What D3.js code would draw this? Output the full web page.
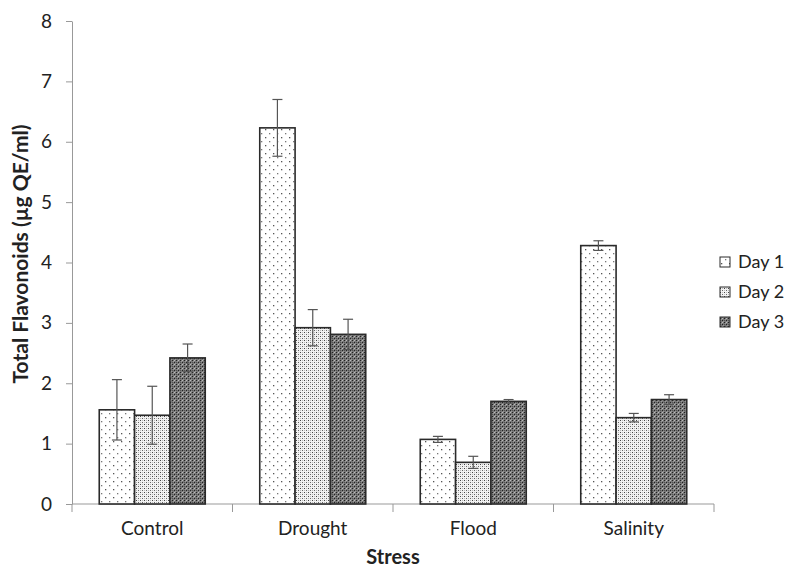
<!DOCTYPE html>
<html>
<head>
<meta charset="utf-8">
<script src="https://cdn.jsdelivr.net/npm/d3@7"></script>
<style>
  html, body { margin: 0; padding: 0; background: #fff; }
  svg { display: block; font-family: Lato, "Open Sans", sans-serif; }
</style>
</head>
<body>
<svg id="chart" width="787" height="568"></svg>
<script>
// Total flavonoid content per stress treatment, three sampling days
const categories = ["Control", "Drought", "Flood", "Salinity"];
const seriesNames = ["Day 1", "Day 2", "Day 3"];
const day1 = [1.56, 6.23, 1.07, 4.28];
const day2 = [1.47, 2.92, 0.69, 1.43];
const day3 = [2.42, 2.81, 1.70, 1.73];
const err1 = [0.50, 0.47, 0.05, 0.08];
const err2 = [0.48, 0.30, 0.10, 0.07];
const err3 = [0.23, 0.25, 0.03, 0.08];
const yTicks = [0, 1, 2, 3, 4, 5, 6, 7, 8];

const values = [day1, day2, day3];
const errors = [err1, err2, err3];

const svg = d3.select("#chart");
const plotLeft = 72, plotRight = 714;

const x = d3.scaleBand().domain(categories).range([plotLeft, plotRight]);
const groupWidth = 106;
const xs = d3.scaleBand().domain(seriesNames).range([0, groupWidth]);
const groupOffset = (x.bandwidth() - groupWidth) / 2;
const y = d3.scaleLinear().domain([0, 8]).range([504, 21]);

// Fill patterns for the three days
const defs = svg.append("defs");
function addPattern(id, size, bg, dots) {
  const p = defs.append("pattern").attr("id", id).attr("patternUnits", "userSpaceOnUse")
    .attr("width", size).attr("height", size);
  p.append("rect").attr("width", size).attr("height", size).attr("fill", bg);
  dots.forEach(([dx, dy, w, c]) => p.append("rect").attr("x", dx).attr("y", dy)
    .attr("width", w).attr("height", w).attr("fill", c));
}
// Day 1: sparse dots on white
addPattern("pat1", 8, "#fff", [[1, 1, 1.3, "#555"], [5, 5, 1.3, "#777"]]);
// Day 2: fine dense dots
addPattern("pat2", 4, "#f2f2f2", [[0, 0, 1, "#444"], [2, 2, 1, "#666"], [2, 0, 1, "#bbb"], [0, 2, 1, "#bbb"]]);
// Day 3: dark grey weave
addPattern("pat3", 4, "#777", [[0, 0, 1, "#222"], [2, 2, 1, "#222"], [2, 0, 1, "#bbb"],
  [0, 2, 1, "#555"], [1, 1, 1, "#999"], [3, 3, 1, "#999"]]);

const fills = ["url(#pat1)", "url(#pat2)", "url(#pat3)"];
const textColor = "#222";

// Y axis
const yAxis = svg.append("g").attr("transform", `translate(${plotLeft},0)`)
  .call(d3.axisLeft(y).tickValues(yTicks).tickSize(6).tickSizeOuter(0).tickPadding(14));
yAxis.select(".domain").attr("stroke", "#999");
yAxis.selectAll(".tick line").attr("stroke", "#999");
yAxis.selectAll(".tick text").attr("font-size", 19).attr("fill", textColor)
  .attr("font-family", "Lato, 'Open Sans', sans-serif");

// X axis with ticks at category boundaries
const xAxisG = svg.append("g").attr("transform", `translate(0,${y(0)})`);
xAxisG.append("line").attr("x1", plotLeft).attr("x2", plotRight).attr("stroke", "#999");
const boundaries = [plotLeft].concat(categories.map(c => x(c) + x.bandwidth()));
xAxisG.selectAll("line.bt").data(boundaries).join("line").attr("class", "bt")
  .attr("x1", d => d).attr("x2", d => d).attr("y1", 0).attr("y2", 8).attr("stroke", "#999");
xAxisG.selectAll("text").data(categories).join("text")
  .attr("x", d => x(d) + x.bandwidth() / 2).attr("y", 31)
  .attr("text-anchor", "middle").attr("font-size", 19).attr("fill", textColor)
  .text(d => d);

// Bars
const rows = [];
categories.forEach((c, ci) => seriesNames.forEach((s, si) => {
  rows.push({ c, s, si, v: values[si][ci], e: errors[si][ci] });
}));

svg.append("g").selectAll("rect").data(rows).join("rect")
  .attr("x", d => x(d.c) + groupOffset + xs(d.s))
  .attr("y", d => y(d.v))
  .attr("width", xs.bandwidth())
  .attr("height", d => y(0) - y(d.v))
  .attr("fill", d => fills[d.si])
  .attr("stroke", "#2a2a2a").attr("stroke-width", 1.6);

// Error bars
const eb = svg.append("g").attr("stroke", "#555").attr("stroke-width", 1.2);
rows.forEach(d => {
  const cx = x(d.c) + groupOffset + xs(d.s) + xs.bandwidth() / 2;
  eb.append("line").attr("x1", cx).attr("x2", cx).attr("y1", y(d.v + d.e)).attr("y2", y(d.v - d.e));
  [d.v + d.e, d.v - d.e].forEach(v => eb.append("line")
    .attr("x1", cx - 5).attr("x2", cx + 5).attr("y1", y(v)).attr("y2", y(v)));
});

// Axis titles
svg.append("text").attr("x", (plotLeft + plotRight) / 2).attr("y", 564).attr("text-anchor", "middle")
  .attr("font-size", 20).attr("font-weight", "bold").attr("fill", textColor).text("Stress");
svg.append("text").attr("transform", "translate(28,254) rotate(-90)").attr("text-anchor", "middle")
  .attr("font-size", 21).attr("font-weight", "bold").attr("fill", textColor)
  .text("Total Flavonoids (µg QE/ml)");

// Legend
const legend = svg.append("g").attr("transform", "translate(720,262)");
seriesNames.forEach((s, i) => {
  const g = legend.append("g").attr("transform", `translate(0,${i * 30})`);
  g.append("rect").attr("x", 0).attr("y", -5).attr("width", 10).attr("height", 10)
    .attr("fill", fills[i]).attr("stroke", "#2a2a2a").attr("stroke-width", 1);
  g.append("text").attr("x", 18).attr("y", 6).attr("font-size", 18).attr("fill", textColor).text(s);
});
</script>
</body>
</html>
